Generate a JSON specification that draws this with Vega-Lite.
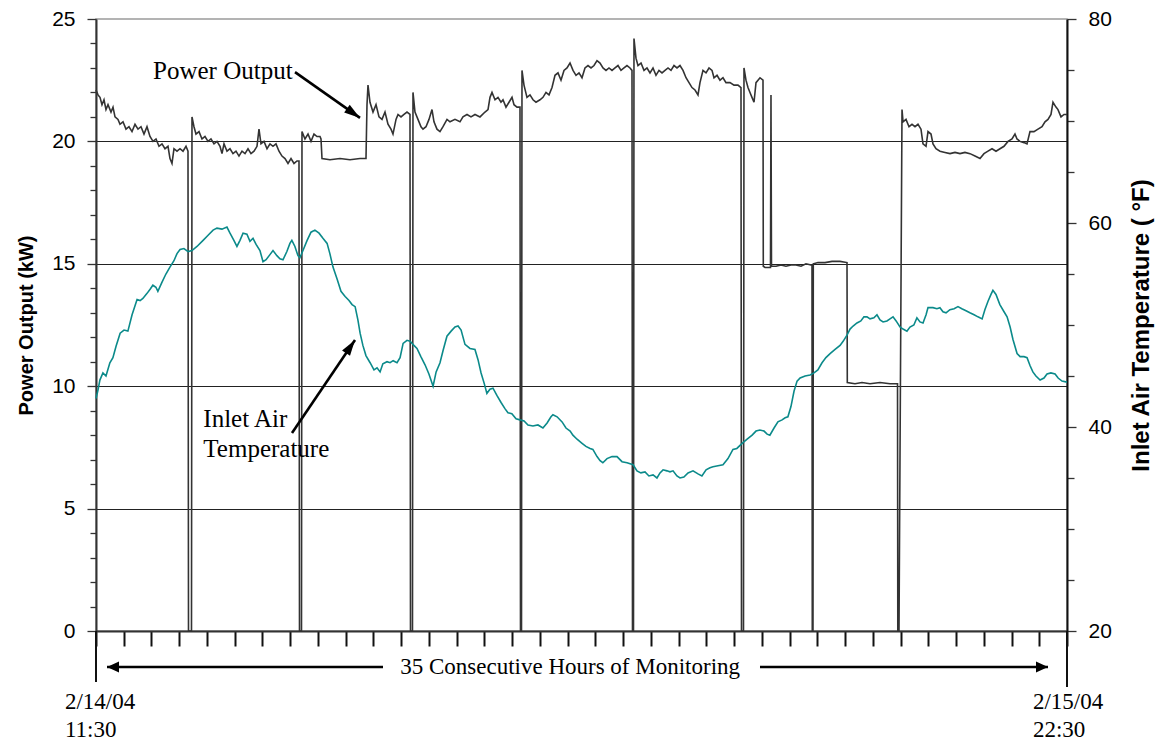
{
"$schema":"https://vega.github.io/schema/vega-lite/v6.json",
"width":971,"height":612,
"autosize":{"type":"none"},
"padding":{"left":96,"top":19,"right":94,"bottom":111},
"background":"white",
"config":{"view":{"stroke":"#9a9a9a","strokeWidth":1.5}},
"datasets":{
"power":[{"h":0,"v":22.1},{"h":0.072,"v":21.9},{"h":0.144,"v":21.8},{"h":0.216,"v":21.5},{"h":0.288,"v":21.7},{"h":0.36,"v":21.3},{"h":0.433,"v":21.5},{"h":0.541,"v":21.2},{"h":0.613,"v":21.4},{"h":0.685,"v":21.0},{"h":0.793,"v":20.9},{"h":0.865,"v":20.7},{"h":0.973,"v":20.8},{"h":1.081,"v":20.5},{"h":1.189,"v":20.6},{"h":1.298,"v":20.4},{"h":1.406,"v":20.7},{"h":1.514,"v":20.5},{"h":1.622,"v":20.6},{"h":1.73,"v":20.3},{"h":1.838,"v":20.6},{"h":1.946,"v":20.2},{"h":2.055,"v":20.0},{"h":2.163,"v":20.1},{"h":2.271,"v":19.8},{"h":2.379,"v":19.9},{"h":2.487,"v":19.7},{"h":2.595,"v":19.8},{"h":2.667,"v":19.3},{"h":2.739,"v":19.1},{"h":2.811,"v":19.7},{"h":2.92,"v":19.6},{"h":3.028,"v":19.7},{"h":3.136,"v":19.6},{"h":3.244,"v":19.8},{"h":3.316,"v":19.6},{"h":3.334,"v":0},{"h":3.442,"v":0},{"h":3.46,"v":21.0},{"h":3.532,"v":20.6},{"h":3.604,"v":20.3},{"h":3.713,"v":20.4},{"h":3.821,"v":20.1},{"h":3.929,"v":20.2},{"h":4.037,"v":20.0},{"h":4.145,"v":20.1},{"h":4.253,"v":19.9},{"h":4.361,"v":20.0},{"h":4.47,"v":19.8},{"h":4.542,"v":19.5},{"h":4.614,"v":19.9},{"h":4.722,"v":19.6},{"h":4.83,"v":19.7},{"h":4.938,"v":19.5},{"h":5.046,"v":19.6},{"h":5.154,"v":19.4},{"h":5.263,"v":19.6},{"h":5.371,"v":19.5},{"h":5.479,"v":19.7},{"h":5.587,"v":19.5},{"h":5.695,"v":19.6},{"h":5.803,"v":19.8},{"h":5.875,"v":20.5},{"h":5.947,"v":19.9},{"h":6.056,"v":20.0},{"h":6.164,"v":19.7},{"h":6.272,"v":19.9},{"h":6.38,"v":19.8},{"h":6.488,"v":19.9},{"h":6.596,"v":19.6},{"h":6.704,"v":19.4},{"h":6.813,"v":19.3},{"h":6.921,"v":19.1},{"h":7.029,"v":19.3},{"h":7.137,"v":19.1},{"h":7.245,"v":19.2},{"h":7.317,"v":19.2},{"h":7.335,"v":0},{"h":7.407,"v":0},{"h":7.425,"v":20.4},{"h":7.533,"v":20.1},{"h":7.642,"v":20.3},{"h":7.75,"v":20.0},{"h":7.858,"v":20.3},{"h":7.966,"v":20.2},{"h":8.074,"v":20.2},{"h":8.11,"v":20.1},{"h":8.146,"v":19.3},{"h":8.434,"v":19.25},{"h":8.795,"v":19.3},{"h":9.155,"v":19.25},{"h":9.516,"v":19.3},{"h":9.732,"v":19.3},{"h":9.768,"v":21.5},{"h":9.804,"v":22.3},{"h":9.876,"v":21.6},{"h":9.985,"v":21.2},{"h":10.093,"v":21.5},{"h":10.201,"v":21.0},{"h":10.309,"v":20.9},{"h":10.417,"v":21.2},{"h":10.525,"v":20.7},{"h":10.633,"v":20.5},{"h":10.705,"v":20.3},{"h":10.814,"v":20.9},{"h":10.886,"v":21.1},{"h":10.994,"v":21.0},{"h":11.102,"v":21.1},{"h":11.21,"v":21.2},{"h":11.318,"v":21.1},{"h":11.336,"v":0},{"h":11.408,"v":0},{"h":11.426,"v":22.0},{"h":11.498,"v":21.2},{"h":11.606,"v":20.9},{"h":11.715,"v":20.6},{"h":11.787,"v":20.5},{"h":11.895,"v":20.6},{"h":12.003,"v":20.9},{"h":12.111,"v":21.3},{"h":12.183,"v":20.8},{"h":12.291,"v":20.5},{"h":12.399,"v":20.4},{"h":12.508,"v":20.6},{"h":12.652,"v":20.9},{"h":12.76,"v":20.8},{"h":12.94,"v":20.9},{"h":13.12,"v":20.8},{"h":13.228,"v":21.0},{"h":13.373,"v":21.1},{"h":13.517,"v":21.0},{"h":13.661,"v":21.1},{"h":13.841,"v":21.0},{"h":14.022,"v":21.2},{"h":14.13,"v":21.3},{"h":14.202,"v":21.8},{"h":14.274,"v":22.0},{"h":14.382,"v":21.7},{"h":14.49,"v":21.8},{"h":14.598,"v":21.6},{"h":14.67,"v":21.7},{"h":14.778,"v":21.4},{"h":14.887,"v":21.6},{"h":14.995,"v":21.8},{"h":15.067,"v":21.5},{"h":15.175,"v":21.4},{"h":15.283,"v":21.4},{"h":15.301,"v":0},{"h":15.337,"v":0},{"h":15.355,"v":22.9},{"h":15.427,"v":22.3},{"h":15.535,"v":21.8},{"h":15.643,"v":21.9},{"h":15.752,"v":21.7},{"h":15.86,"v":21.6},{"h":16.004,"v":21.7},{"h":16.112,"v":21.8},{"h":16.22,"v":22.0},{"h":16.329,"v":21.9},{"h":16.437,"v":22.2},{"h":16.545,"v":22.7},{"h":16.653,"v":22.8},{"h":16.761,"v":22.5},{"h":16.869,"v":22.9},{"h":16.977,"v":23.0},{"h":17.086,"v":23.2},{"h":17.194,"v":22.9},{"h":17.302,"v":22.7},{"h":17.41,"v":22.8},{"h":17.518,"v":22.6},{"h":17.626,"v":23.0},{"h":17.734,"v":23.1},{"h":17.843,"v":23.0},{"h":17.951,"v":23.1},{"h":18.059,"v":23.3},{"h":18.167,"v":23.2},{"h":18.275,"v":23.0},{"h":18.383,"v":22.9},{"h":18.491,"v":23.0},{"h":18.6,"v":22.9},{"h":18.708,"v":23.0},{"h":18.816,"v":23.1},{"h":18.924,"v":22.9},{"h":19.032,"v":23.0},{"h":19.14,"v":23.1},{"h":19.248,"v":23.0},{"h":19.32,"v":22.9},{"h":19.338,"v":0},{"h":19.374,"v":0},{"h":19.392,"v":24.2},{"h":19.464,"v":23.4},{"h":19.536,"v":23.1},{"h":19.645,"v":23.2},{"h":19.753,"v":22.9},{"h":19.861,"v":23.0},{"h":19.969,"v":22.8},{"h":20.077,"v":23.0},{"h":20.185,"v":22.7},{"h":20.293,"v":22.9},{"h":20.402,"v":22.8},{"h":20.51,"v":22.9},{"h":20.618,"v":23.0},{"h":20.726,"v":22.9},{"h":20.834,"v":23.1},{"h":20.942,"v":23.0},{"h":21.05,"v":23.1},{"h":21.159,"v":22.9},{"h":21.267,"v":22.6},{"h":21.375,"v":22.4},{"h":21.483,"v":22.2},{"h":21.591,"v":22.1},{"h":21.699,"v":21.9},{"h":21.771,"v":22.4},{"h":21.879,"v":22.9},{"h":21.988,"v":22.8},{"h":22.096,"v":23.0},{"h":22.204,"v":22.9},{"h":22.276,"v":22.6},{"h":22.384,"v":22.7},{"h":22.492,"v":22.5},{"h":22.6,"v":22.6},{"h":22.708,"v":22.4},{"h":22.853,"v":22.4},{"h":22.997,"v":22.3},{"h":23.141,"v":22.3},{"h":23.249,"v":22.2},{"h":23.267,"v":0},{"h":23.339,"v":0},{"h":23.357,"v":23.0},{"h":23.429,"v":22.5},{"h":23.501,"v":22.2},{"h":23.573,"v":22.0},{"h":23.645,"v":21.8},{"h":23.718,"v":21.6},{"h":23.79,"v":22.4},{"h":23.862,"v":22.5},{"h":23.934,"v":22.6},{"h":24.042,"v":22.5},{"h":24.053,"v":14.9},{"h":24.114,"v":14.85},{"h":24.312,"v":14.85},{"h":24.33,"v":21.9},{"h":24.348,"v":14.9},{"h":24.511,"v":14.9},{"h":24.691,"v":14.95},{"h":24.871,"v":14.9},{"h":25.051,"v":14.95},{"h":25.232,"v":14.95},{"h":25.412,"v":14.9},{"h":25.592,"v":15.0},{"h":25.772,"v":14.95},{"h":25.808,"v":14.95},{"h":25.819,"v":0},{"h":25.844,"v":0},{"h":25.855,"v":15.0},{"h":26.025,"v":15.05},{"h":26.277,"v":15.05},{"h":26.529,"v":15.1},{"h":26.818,"v":15.1},{"h":27.07,"v":15.05},{"h":27.081,"v":10.15},{"h":27.358,"v":10.1},{"h":27.611,"v":10.15},{"h":27.899,"v":10.1},{"h":28.26,"v":10.15},{"h":28.62,"v":10.1},{"h":28.891,"v":10.1},{"h":28.901,"v":0},{"h":28.944,"v":0},{"h":29.053,"v":21.3},{"h":29.089,"v":20.8},{"h":29.197,"v":20.9},{"h":29.305,"v":20.6},{"h":29.413,"v":20.7},{"h":29.521,"v":20.6},{"h":29.629,"v":20.7},{"h":29.737,"v":20.5},{"h":29.809,"v":19.9},{"h":29.918,"v":19.8},{"h":29.99,"v":20.4},{"h":30.098,"v":20.3},{"h":30.17,"v":19.9},{"h":30.278,"v":19.7},{"h":30.422,"v":19.6},{"h":30.602,"v":19.55},{"h":30.783,"v":19.5},{"h":30.963,"v":19.55},{"h":31.143,"v":19.5},{"h":31.323,"v":19.55},{"h":31.504,"v":19.5},{"h":31.684,"v":19.4},{"h":31.864,"v":19.3},{"h":32.008,"v":19.5},{"h":32.152,"v":19.6},{"h":32.297,"v":19.7},{"h":32.441,"v":19.6},{"h":32.585,"v":19.7},{"h":32.729,"v":19.8},{"h":32.873,"v":20.0},{"h":33.017,"v":20.1},{"h":33.125,"v":20.3},{"h":33.198,"v":20.1},{"h":33.306,"v":20.0},{"h":33.45,"v":19.95},{"h":33.558,"v":19.9},{"h":33.666,"v":20.4},{"h":33.81,"v":20.4},{"h":33.955,"v":20.5},{"h":34.099,"v":20.6},{"h":34.207,"v":20.8},{"h":34.315,"v":20.9},{"h":34.423,"v":21.1},{"h":34.495,"v":21.6},{"h":34.603,"v":21.4},{"h":34.675,"v":21.3},{"h":34.784,"v":21.0},{"h":34.892,"v":21.1},{"h":35.0,"v":21.1}],
"temp":[{"h":0,"t":42.8},{"h":0.07,"t":43.6},{"h":0.14,"t":44.6},{"h":0.25,"t":45.3},{"h":0.36,"t":45.0},{"h":0.5,"t":46.3},{"h":0.61,"t":46.8},{"h":0.72,"t":47.9},{"h":0.87,"t":49.2},{"h":1.01,"t":49.5},{"h":1.15,"t":49.4},{"h":1.3,"t":51.0},{"h":1.48,"t":52.5},{"h":1.59,"t":52.4},{"h":1.69,"t":52.6},{"h":1.84,"t":53.1},{"h":1.95,"t":53.5},{"h":2.05,"t":53.9},{"h":2.16,"t":53.7},{"h":2.23,"t":53.3},{"h":2.38,"t":54.2},{"h":2.52,"t":55.0},{"h":2.67,"t":55.7},{"h":2.81,"t":56.3},{"h":2.92,"t":57.0},{"h":3.03,"t":57.4},{"h":3.17,"t":57.5},{"h":3.32,"t":57.2},{"h":3.46,"t":57.3},{"h":3.64,"t":57.7},{"h":3.86,"t":58.3},{"h":4.04,"t":58.8},{"h":4.22,"t":59.3},{"h":4.36,"t":59.5},{"h":4.54,"t":59.4},{"h":4.72,"t":59.6},{"h":4.83,"t":59.0},{"h":4.97,"t":58.3},{"h":5.08,"t":57.7},{"h":5.19,"t":58.3},{"h":5.3,"t":59.0},{"h":5.44,"t":58.9},{"h":5.55,"t":58.2},{"h":5.66,"t":58.5},{"h":5.77,"t":57.9},{"h":5.91,"t":57.3},{"h":6.02,"t":56.2},{"h":6.13,"t":56.4},{"h":6.27,"t":56.9},{"h":6.38,"t":57.3},{"h":6.52,"t":56.8},{"h":6.63,"t":56.5},{"h":6.74,"t":56.4},{"h":6.88,"t":57.2},{"h":6.99,"t":58.0},{"h":7.06,"t":58.3},{"h":7.17,"t":57.7},{"h":7.28,"t":56.8},{"h":7.35,"t":56.6},{"h":7.46,"t":57.3},{"h":7.61,"t":58.3},{"h":7.75,"t":59.1},{"h":7.89,"t":59.3},{"h":8.04,"t":59.0},{"h":8.18,"t":58.5},{"h":8.33,"t":58.0},{"h":8.43,"t":57.0},{"h":8.54,"t":55.7},{"h":8.69,"t":54.5},{"h":8.83,"t":53.3},{"h":8.98,"t":52.8},{"h":9.12,"t":52.4},{"h":9.23,"t":52.0},{"h":9.34,"t":51.8},{"h":9.44,"t":50.5},{"h":9.52,"t":49.2},{"h":9.62,"t":48.0},{"h":9.73,"t":47.0},{"h":9.88,"t":46.3},{"h":10.02,"t":45.6},{"h":10.13,"t":45.8},{"h":10.24,"t":45.4},{"h":10.34,"t":46.2},{"h":10.49,"t":46.4},{"h":10.6,"t":46.3},{"h":10.71,"t":46.5},{"h":10.85,"t":46.3},{"h":10.96,"t":46.8},{"h":11.07,"t":48.2},{"h":11.21,"t":48.5},{"h":11.32,"t":48.4},{"h":11.46,"t":48.0},{"h":11.57,"t":47.7},{"h":11.71,"t":46.9},{"h":11.86,"t":46.1},{"h":12.0,"t":45.2},{"h":12.15,"t":44.0},{"h":12.26,"t":45.4},{"h":12.4,"t":46.3},{"h":12.51,"t":47.5},{"h":12.65,"t":48.9},{"h":12.8,"t":49.4},{"h":12.94,"t":49.8},{"h":13.05,"t":49.9},{"h":13.16,"t":49.5},{"h":13.3,"t":48.1},{"h":13.48,"t":47.7},{"h":13.66,"t":47.6},{"h":13.77,"t":46.6},{"h":13.88,"t":45.3},{"h":13.99,"t":44.3},{"h":14.09,"t":43.3},{"h":14.2,"t":43.7},{"h":14.31,"t":43.8},{"h":14.45,"t":43.1},{"h":14.6,"t":42.4},{"h":14.74,"t":41.8},{"h":14.85,"t":41.4},{"h":14.99,"t":41.3},{"h":15.14,"t":40.8},{"h":15.28,"t":40.7},{"h":15.43,"t":40.6},{"h":15.57,"t":40.2},{"h":15.75,"t":40.1},{"h":15.93,"t":40.2},{"h":16.11,"t":39.9},{"h":16.26,"t":40.4},{"h":16.4,"t":41.0},{"h":16.47,"t":41.2},{"h":16.62,"t":41.0},{"h":16.8,"t":40.5},{"h":16.94,"t":39.9},{"h":17.09,"t":39.6},{"h":17.19,"t":39.2},{"h":17.34,"t":38.8},{"h":17.52,"t":38.4},{"h":17.66,"t":38.1},{"h":17.81,"t":37.9},{"h":17.91,"t":37.8},{"h":18.06,"t":37.1},{"h":18.17,"t":36.7},{"h":18.27,"t":36.5},{"h":18.42,"t":36.9},{"h":18.6,"t":37.1},{"h":18.78,"t":37.1},{"h":18.96,"t":36.6},{"h":19.14,"t":36.5},{"h":19.36,"t":36.3},{"h":19.5,"t":35.7},{"h":19.64,"t":35.5},{"h":19.79,"t":35.6},{"h":19.93,"t":35.2},{"h":20.08,"t":35.3},{"h":20.22,"t":35.0},{"h":20.33,"t":35.5},{"h":20.44,"t":35.8},{"h":20.58,"t":35.7},{"h":20.69,"t":35.6},{"h":20.8,"t":35.7},{"h":20.94,"t":35.2},{"h":21.05,"t":35.0},{"h":21.19,"t":35.1},{"h":21.34,"t":35.5},{"h":21.52,"t":35.7},{"h":21.7,"t":35.4},{"h":21.84,"t":35.2},{"h":21.99,"t":35.8},{"h":22.13,"t":36.0},{"h":22.24,"t":36.1},{"h":22.42,"t":36.2},{"h":22.6,"t":36.3},{"h":22.78,"t":36.9},{"h":22.96,"t":37.8},{"h":23.1,"t":37.9},{"h":23.29,"t":38.4},{"h":23.47,"t":38.8},{"h":23.65,"t":39.2},{"h":23.79,"t":39.6},{"h":23.93,"t":39.7},{"h":24.08,"t":39.6},{"h":24.19,"t":39.3},{"h":24.29,"t":39.2},{"h":24.44,"t":39.9},{"h":24.58,"t":40.5},{"h":24.73,"t":40.7},{"h":24.84,"t":40.9},{"h":24.94,"t":41.0},{"h":25.05,"t":42.0},{"h":25.16,"t":43.5},{"h":25.27,"t":44.5},{"h":25.38,"t":44.8},{"h":25.56,"t":45.0},{"h":25.74,"t":45.1},{"h":25.88,"t":45.3},{"h":26.02,"t":45.6},{"h":26.17,"t":46.3},{"h":26.31,"t":46.8},{"h":26.46,"t":47.2},{"h":26.64,"t":47.6},{"h":26.82,"t":48.0},{"h":26.93,"t":48.4},{"h":27.07,"t":49.0},{"h":27.18,"t":49.6},{"h":27.29,"t":49.9},{"h":27.43,"t":50.2},{"h":27.57,"t":50.4},{"h":27.68,"t":50.8},{"h":27.79,"t":50.8},{"h":27.9,"t":50.6},{"h":28.04,"t":50.7},{"h":28.15,"t":51.0},{"h":28.26,"t":50.5},{"h":28.37,"t":50.3},{"h":28.51,"t":50.4},{"h":28.62,"t":50.6},{"h":28.73,"t":50.8},{"h":28.84,"t":50.4},{"h":28.98,"t":49.8},{"h":29.09,"t":49.6},{"h":29.23,"t":49.4},{"h":29.34,"t":49.8},{"h":29.48,"t":50.0},{"h":29.59,"t":50.7},{"h":29.7,"t":50.3},{"h":29.81,"t":50.2},{"h":29.92,"t":51.0},{"h":29.99,"t":51.7},{"h":30.17,"t":51.7},{"h":30.31,"t":51.6},{"h":30.42,"t":51.7},{"h":30.53,"t":51.3},{"h":30.64,"t":51.2},{"h":30.78,"t":51.5},{"h":30.93,"t":51.6},{"h":31.07,"t":51.8},{"h":31.21,"t":51.6},{"h":31.36,"t":51.4},{"h":31.5,"t":51.2},{"h":31.65,"t":51.0},{"h":31.79,"t":50.8},{"h":31.94,"t":50.6},{"h":32.04,"t":51.5},{"h":32.15,"t":52.3},{"h":32.26,"t":53.0},{"h":32.33,"t":53.4},{"h":32.44,"t":53.0},{"h":32.58,"t":52.0},{"h":32.73,"t":51.3},{"h":32.84,"t":50.8},{"h":32.95,"t":49.8},{"h":33.05,"t":48.6},{"h":33.2,"t":47.2},{"h":33.31,"t":46.9},{"h":33.45,"t":46.9},{"h":33.56,"t":46.8},{"h":33.67,"t":46.0},{"h":33.77,"t":45.4},{"h":33.88,"t":45.0},{"h":34.03,"t":44.6},{"h":34.17,"t":44.8},{"h":34.28,"t":45.2},{"h":34.42,"t":45.3},{"h":34.57,"t":45.2},{"h":34.68,"t":44.8},{"h":34.82,"t":44.5},{"h":35.0,"t":44.4}],
"notes":[{"h":2.055,"v":22.55,"label":"Power Output"},{"h":3.868,"v":8.35,"label":"Inlet Air"},{"h":3.868,"v":7.1,"label":"Temperature"}],
"dates":[{"h":-1.12,"v":-3.19,"label":"2/14/04"},{"h":-1.12,"v":-4.33,"label":"11:30"},{"h":33.77,"v":-3.19,"label":"2/15/04"},{"h":33.77,"v":-4.33,"label":"22:30"}],
"span":[{"h":17.09,"v":-1.76,"label":"35 Consecutive Hours of Monitoring"}],
"endticks":[{"h":0,"v":0,"v2":-2.08},{"h":35,"v":0,"v2":-2.29}],
"arrows":[{"id":"p","h":7.173,"v":22.83,"h2":9.516,"v2":20.96},{"id":"t","h":7.065,"v":8.09,"h2":9.336,"v2":11.89},{"id":"l","h":10.345,"v":-1.47,"h2":0.397,"v2":-1.47},{"id":"r","h":23.934,"v":-1.47,"h2":34.315,"v2":-1.47}]
},
"layer":[
{"data":{"name":"power"},"mark":{"type":"line","color":"#333333","strokeWidth":1.6},
"encoding":{
"x":{"field":"h","type":"quantitative","scale":{"domain":[0,35],"nice":false},
"axis":{"orient":"bottom","values":[0,1,2,3,4,5,6,7,8,9,10,11,12,13,14,15,16,17,18,19,20,21,22,23,24,25,26,27,28,29,30,31,32,33,34,35],"labels":false,"ticks":true,"tickSize":15,"tickWidth":2,"tickColor":"#111","domain":true,"domainColor":"#333","domainWidth":2,"grid":false,"title":null}},
"y":{"field":"v","type":"quantitative","scale":{"domain":[0,25],"nice":false},
"axis":{"orient":"left","values":[0,1,2,3,4,5,6,7,8,9,10,11,12,13,14,15,16,17,18,19,20,21,22,23,24,25],
"labelExpr":"datum.value % 5 === 0 ? datum.label : ''","labelFont":"Liberation Sans","labelFontSize":21,"labelColor":"black","labelPadding":12,
"tickSize":{"condition":{"test":"datum.value % 5 === 0","value":9},"value":6},"tickColor":"#333","tickWidth":1.3,
"domainColor":"#333","domainWidth":2,
"grid":true,"gridColor":"#222","gridWidth":1,"gridOpacity":{"condition":{"test":"datum.value % 5 === 0 && datum.value > 0 && datum.value < 25","value":1},"value":0},
"title":"Power Output (kW)","titleFont":"Liberation Sans","titleFontSize":20,"titleFontWeight":"bold","titleColor":"black","titlePadding":15}}}},
{"data":{"name":"temp"},"mark":{"type":"line","color":"#0b8a8a","strokeWidth":1.6},
"encoding":{
"x":{"field":"h","type":"quantitative","scale":{"domain":[0,35],"nice":false},"axis":null},
"y":{"field":"t","type":"quantitative","scale":{"domain":[20,80],"nice":false},
"axis":{"orient":"right","values":[20,25,30,35,40,45,50,55,60,65,70,75,80],
"labelExpr":"datum.value % 20 === 0 ? datum.label : ''","labelFont":"Liberation Sans","labelFontSize":21,"labelColor":"black","labelPadding":12,
"tickSize":{"condition":{"test":"datum.value % 20 === 0","value":9},"value":7},"tickColor":"#333","tickWidth":1.3,
"domainColor":"#111","domainWidth":2,"grid":false,
"title":"Inlet Air Temperature ( °F)","titleFont":"Liberation Sans","titleFontSize":24,"titleFontWeight":"bold","titleColor":"black","titleAngle":270,"titleBaseline":"top","titlePadding":18}}}},
{"data":{"name":"notes"},"mark":{"type":"text","font":"Liberation Serif","fontSize":25,"align":"left","baseline":"alphabetic","color":"black"},
"encoding":{"x":{"field":"h","type":"quantitative","scale":{"domain":[0,35],"nice":false},"axis":null},"y":{"field":"v","type":"quantitative","scale":{"domain":[0,25],"nice":false},"axis":null},"text":{"field":"label"}}},
{"data":{"name":"dates"},"mark":{"type":"text","font":"Liberation Serif","fontSize":23,"align":"left","baseline":"alphabetic","color":"black"},
"encoding":{"x":{"field":"h","type":"quantitative","scale":{"domain":[0,35],"nice":false},"axis":null},"y":{"field":"v","type":"quantitative","scale":{"domain":[0,25],"nice":false},"axis":null},"text":{"field":"label"}}},
{"data":{"name":"span"},"mark":{"type":"text","font":"Liberation Serif","fontSize":23,"align":"center","baseline":"alphabetic","color":"black"},
"encoding":{"x":{"field":"h","type":"quantitative","scale":{"domain":[0,35],"nice":false},"axis":null},"y":{"field":"v","type":"quantitative","scale":{"domain":[0,25],"nice":false},"axis":null},"text":{"field":"label"}}},
{"data":{"name":"endticks"},"mark":{"type":"rule","color":"#111","strokeWidth":2},
"encoding":{"x":{"field":"h","type":"quantitative","scale":{"domain":[0,35],"nice":false},"axis":null},"y":{"field":"v","type":"quantitative","scale":{"domain":[0,25],"nice":false},"axis":null},"y2":{"field":"v2"}}},
{"data":{"name":"arrows"},"mark":{"type":"rule","color":"black","strokeWidth":2.6},
"encoding":{"x":{"field":"h","type":"quantitative","scale":{"domain":[0,35],"nice":false},"axis":null},"y":{"field":"v","type":"quantitative","scale":{"domain":[0,25],"nice":false},"axis":null},"x2":{"field":"h2"},"y2":{"field":"v2"}}},
{"data":{"name":"arrows"},"transform":[{"filter":"datum.id === 'p'"}],"mark":{"type":"point","shape":"M0,0L0.6,2L-0.6,2Z","filled":true,"color":"black","opacity":1,"size":256,"angle":125.3,"strokeWidth":0},
"encoding":{"x":{"field":"h2","type":"quantitative","scale":{"domain":[0,35],"nice":false},"axis":null},"y":{"field":"v2","type":"quantitative","scale":{"domain":[0,25],"nice":false},"axis":null}}},
{"data":{"name":"arrows"},"transform":[{"filter":"datum.id === 't'"}],"mark":{"type":"point","shape":"M0,0L0.6,2L-0.6,2Z","filled":true,"color":"black","opacity":1,"size":256,"angle":34.1,"strokeWidth":0},
"encoding":{"x":{"field":"h2","type":"quantitative","scale":{"domain":[0,35],"nice":false},"axis":null},"y":{"field":"v2","type":"quantitative","scale":{"domain":[0,25],"nice":false},"axis":null}}},
{"data":{"name":"arrows"},"transform":[{"filter":"datum.id === 'l'"}],"mark":{"type":"point","shape":"M0,0L0.9,2L-0.9,2Z","filled":true,"color":"black","opacity":1,"size":144,"angle":270,"strokeWidth":0},
"encoding":{"x":{"field":"h2","type":"quantitative","scale":{"domain":[0,35],"nice":false},"axis":null},"y":{"field":"v2","type":"quantitative","scale":{"domain":[0,25],"nice":false},"axis":null}}},
{"data":{"name":"arrows"},"transform":[{"filter":"datum.id === 'r'"}],"mark":{"type":"point","shape":"M0,0L0.9,2L-0.9,2Z","filled":true,"color":"black","opacity":1,"size":144,"angle":90,"strokeWidth":0},
"encoding":{"x":{"field":"h2","type":"quantitative","scale":{"domain":[0,35],"nice":false},"axis":null},"y":{"field":"v2","type":"quantitative","scale":{"domain":[0,25],"nice":false},"axis":null}}}
],
"resolve":{"scale":{"y":"independent"},"axis":{"x":"independent"}}
}
